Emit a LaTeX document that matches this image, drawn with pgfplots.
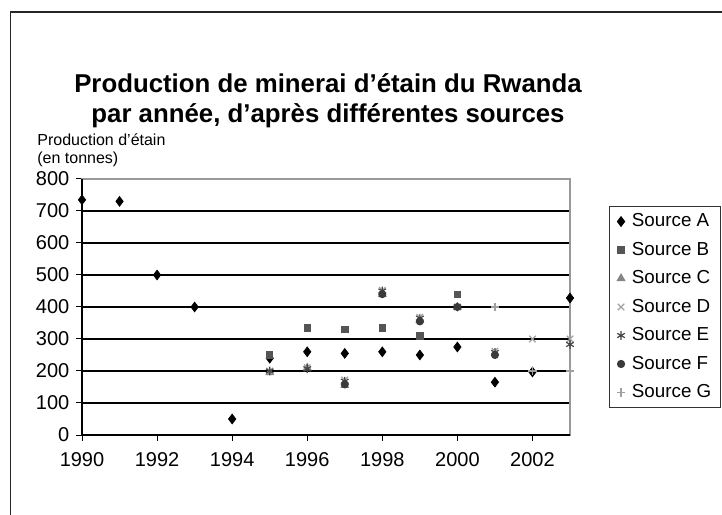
\documentclass[border=0pt]{standalone}
\usepackage{pgfplots}
\pgfplotsset{compat=1.18}
\usepackage{fontspec}
\setmainfont{Liberation Sans}
\definecolor{cB}{HTML}{555555}
\definecolor{cC}{HTML}{858585}
\definecolor{cD}{HTML}{A0A0A0}
\definecolor{cE}{HTML}{454545}
\definecolor{cF}{HTML}{3A3A3A}
\definecolor{cG}{HTML}{A0A0A0}
\begin{document}
\begin{tikzpicture}
\useasboundingbox (0,0) rectangle (361bp,257.5bp);
\draw[line width=0.7bp, color=black!85] (5.25bp,-10bp) -- (5.25bp,251.5bp) -- (380bp,251.5bp);
\node[anchor=north, align=center, font=\bfseries\fontsize{12.9bp}{15bp}\selectfont] at (164bp,224bp)
  {Production de minerai d’étain du Rwanda\\par année, d’après différentes sources};
\node[anchor=north west, align=left, inner sep=0pt, font=\fontsize{8bp}{9bp}\selectfont] at (18.5bp,191bp)
  {Production d’étain\\(en tonnes)};
\begin{axis}[
  at={(41bp,40bp)}, anchor=south west,
  scale only axis, width=244bp, height=128bp,
  xmin=1990, xmax=2003, ymin=0, ymax=800,
  xtick={1990,1992,...,2002}, ytick={0,100,...,800},
  xticklabel style={/pgf/number format/1000 sep={}, yshift=-2.5bp},
  /pgf/number format/assume math mode=true,
  tick label style={font=\fontsize{10bp}{12bp}\selectfont},
  tick align=outside, tick pos=left, major tick length=2.8bp,
  tick style={black, line width=0.5bp},
  axis line style={draw=black!40, line width=0.6bp},
  ymajorgrids, grid style={black, line width=0.65bp},
  clip=false,
  legend style={at={(rel axis cs:1.08,0.8945)}, anchor=north west,
    draw=black!80, line width=0.5bp, font=\fontsize{9.4bp}{11bp}\selectfont,
    row sep=2.2bp, inner xsep=2.5bp, inner ysep=1.5bp, cells={anchor=west}},
  legend image code/.code={\draw[#1] plot coordinates {(0bp,0bp)}; \path (-3bp,0bp) (3.2bp,0bp);},
]
\addplot[only marks, mark=diamond*, mark size=2.4bp, black] coordinates {
(1990,735)(1991,730)(1992,500)(1993,400)(1994,50)(1995,240)(1996,260)(1997,255)(1998,260)(1999,250)(2000,275)(2001,165)(2002,197)(2003,428)};
\addlegendentry{Source A}
\addplot[only marks, mark=square*, mark size=1.6bp, cB, mark options={fill=cB, draw=cB}] coordinates {
(1995,250)(1996,335)(1997,330)(1998,335)(1999,310)(2000,440)};
\addlegendentry{Source B}
\addplot[only marks, mark=triangle*, mark size=2.2bp, cC, mark options={fill=cC, draw=cC}] coordinates {
(1995,195)(1996,210)(1997,155)(1998,440)(1999,358)(2000,400)};
\addlegendentry{Source C}
\addplot[only marks, mark=x, mark size=2.3bp, cD, mark options={line width=0.6bp}] coordinates {
(1995,200)(1996,210)(1997,172)(1998,452)(1999,368)(2000,400)(2001,262)(2002,300)(2003,300)};
\addlegendentry{Source D}
\addplot[only marks, mark=asterisk, mark size=2.2bp, cE, mark options={line width=0.6bp}] coordinates {
(1995,200)(1996,207)(1997,168)(1998,450)(1999,365)(2000,400)(2001,258)(2003,283)};
\addlegendentry{Source E}
\addplot[only marks, mark=*, mark size=1.8bp, cF, mark options={fill=cF, draw=cF}] coordinates {
(1997,158)(1998,440)(1999,355)(2000,400)(2001,250)};
\addlegendentry{Source F}
\addplot[only marks, mark=+, mark size=2.2bp, cG, mark options={line width=0.6bp}] coordinates {
(2001,400)(2002,200)(2003,200)};
\addlegendentry{Source G}
\draw[black, line width=0.6bp] (rel axis cs:0,1) -- (rel axis cs:0,0) -- (rel axis cs:1,0);
\end{axis}
\end{tikzpicture}
\end{document}
